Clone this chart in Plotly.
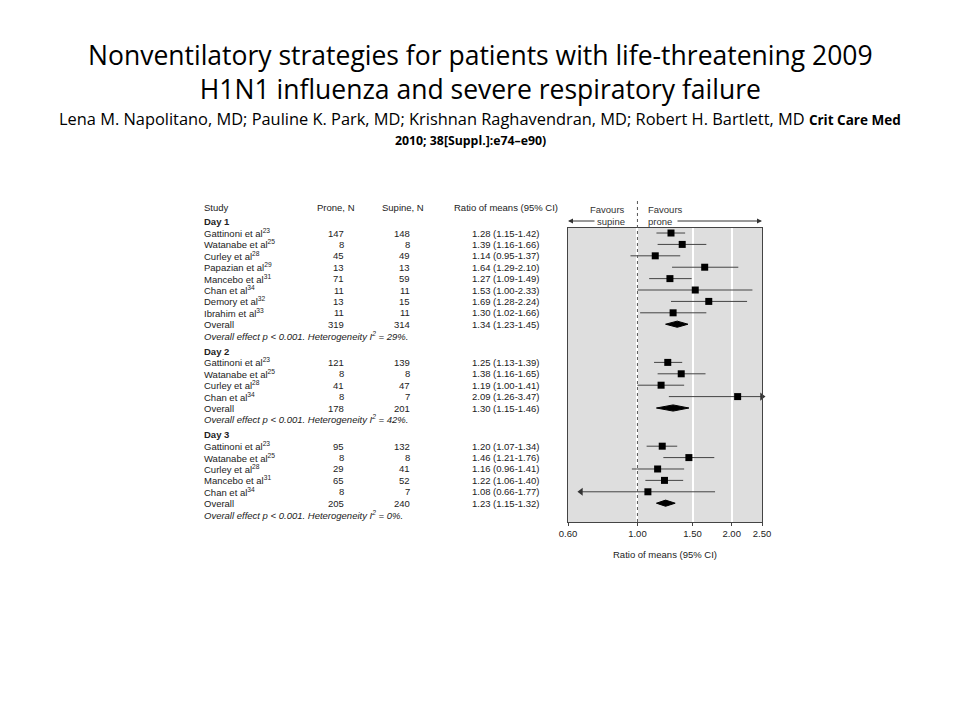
import math
import plotly.graph_objects as go

# ---------------- data ----------------
day_labels = ["Day 1", "Day 2", "Day 3"]

studies_d1 = ["Gattinoni et al<sup>23</sup>", "Watanabe et al<sup>25</sup>", "Curley et al<sup>28</sup>",
              "Papazian et al<sup>29</sup>", "Mancebo et al<sup>31</sup>", "Chan et al<sup>34</sup>",
              "Demory et al<sup>32</sup>", "Ibrahim et al<sup>33</sup>"]
prone_d1 = [147, 8, 45, 13, 71, 11, 13, 11]
supine_d1 = [148, 8, 49, 13, 59, 11, 15, 11]
ratio_d1 = [1.28, 1.39, 1.14, 1.64, 1.27, 1.53, 1.69, 1.30]
lo_d1 = [1.15, 1.16, 0.95, 1.29, 1.09, 1.00, 1.28, 1.02]
hi_d1 = [1.42, 1.66, 1.37, 2.10, 1.49, 2.33, 2.24, 1.66]

studies_d2 = ["Gattinoni et al<sup>23</sup>", "Watanabe et al<sup>25</sup>", "Curley et al<sup>28</sup>",
              "Chan et al<sup>34</sup>"]
prone_d2 = [121, 8, 41, 8]
supine_d2 = [139, 8, 47, 7]
ratio_d2 = [1.25, 1.38, 1.19, 2.09]
lo_d2 = [1.13, 1.16, 1.00, 1.26]
hi_d2 = [1.39, 1.65, 1.41, 3.47]

studies_d3 = ["Gattinoni et al<sup>23</sup>", "Watanabe et al<sup>25</sup>", "Curley et al<sup>28</sup>",
              "Mancebo et al<sup>31</sup>", "Chan et al<sup>34</sup>"]
prone_d3 = [95, 8, 29, 65, 8]
supine_d3 = [132, 8, 41, 52, 7]
ratio_d3 = [1.20, 1.46, 1.16, 1.22, 1.08]
lo_d3 = [1.07, 1.21, 0.96, 1.06, 0.66]
hi_d3 = [1.34, 1.76, 1.41, 1.40, 1.77]

overall_prone = [319, 178, 205]
overall_supine = [314, 201, 240]
overall_ratio = [1.34, 1.30, 1.23]
overall_lo = [1.23, 1.15, 1.15]
overall_hi = [1.45, 1.46, 1.32]
heterogeneity = [29, 42, 0]

x_ticks = [0.60, 1.00, 1.50, 2.00, 2.50]
x_tick_labels = ["0.60", "1.00", "1.50", "2.00", "2.50"]

sections = [
    (studies_d1, prone_d1, supine_d1, ratio_d1, lo_d1, hi_d1),
    (studies_d2, prone_d2, supine_d2, ratio_d2, lo_d2, hi_d2),
    (studies_d3, prone_d3, supine_d3, ratio_d3, lo_d3, hi_d3),
]

# ---------------- layout constants ----------------
W, H = 960, 720
OFF = 8                                      # page body margin
PL, PR, PT, PB = 568 - OFF, 762 - OFF, 228 - OFF, 522 - OFF   # plot area (figure px)
XMIN, XMAX = 0.60, 2.50
R_TOP, R_BOT = -0.44, 25.35
GAP = 1.35

def xpaper(px):          # px = position on screen
    return (px - OFF - PL) / (PR - PL)

def ypaper(py):
    return 1 - (py - OFF - PT) / (PB - PT)

def rowpaper(r):
    return (R_BOT - r) / (R_BOT - R_TOP)

def val2paper(v):
    return (math.log10(v) - math.log10(XMIN)) / (math.log10(XMAX) - math.log10(XMIN))

SANS = "Liberation Sans, Arial, sans-serif"
TXT = dict(family=SANS, size=9.5, color="#222")

fig = go.Figure()
ann = []

def tann(x, y, text, xanchor="left", font=None):
    ann.append(dict(x=x, y=y, xref="paper", yref="paper", text=text, showarrow=False,
                    xanchor=xanchor, yanchor="middle", font=font or TXT))

col_study = xpaper(202)
col_prone = xpaper(346)
col_supine = xpaper(412)
col_ratio = xpaper(470)
col_ci = xpaper(491)

# header
hdr_r = -2.28
tann(col_study, rowpaper(hdr_r), "Study")
tann(xpaper(357), rowpaper(hdr_r), "Prone, N", "right")
tann(xpaper(426), rowpaper(hdr_r), "Supine, N", "right")
tann(xpaper(452), rowpaper(hdr_r), "Ratio of means (95% CI)")

line_x, line_y = [], []
sq_x, sq_y = [], []
arr_r_x, arr_r_y, arr_l_x, arr_l_y = [], [], [], []

r = -1.0
for k, (names, pn, sn, rm, lo, hi) in enumerate(sections):
    tann(col_study, rowpaper(r), "<b>%s</b>" % day_labels[k])
    for i in range(len(names)):
        r += 1
        yp = rowpaper(r)
        tann(col_study, yp, names[i])
        tann(col_prone, yp, str(pn[i]), "right")
        tann(col_supine, yp, str(sn[i]), "right")
        tann(col_ratio, yp, "%.2f" % rm[i])
        tann(col_ci, yp, "(%.2f-%.2f)" % (lo[i], hi[i]))
        a = max(lo[i], XMIN)
        b = min(hi[i], XMAX)
        line_x += [a, b, None]
        line_y += [r, r, None]
        sq_x.append(rm[i]); sq_y.append(r)
        if hi[i] > XMAX:
            arr_r_x.append(b); arr_r_y.append(r)
        if lo[i] < 0.7:
            arr_l_x.append(a); arr_l_y.append(r)
    r += 1
    yp = rowpaper(r)
    tann(col_study, yp, "Overall")
    tann(col_prone, yp, str(overall_prone[k]), "right")
    tann(col_supine, yp, str(overall_supine[k]), "right")
    tann(col_ratio, yp, "%.2f" % overall_ratio[k])
    tann(col_ci, yp, "(%.2f-%.2f)" % (overall_lo[k], overall_hi[k]))
    d = 0.27
    fig.add_trace(go.Scatter(
        x=[overall_lo[k], overall_ratio[k], overall_hi[k], overall_ratio[k], overall_lo[k]],
        y=[r, r - d, r, r + d, r], mode="lines", fill="toself",
        fillcolor="black", line=dict(color="black", width=1), hoverinfo="skip"))
    r += 1
    tann(col_study, rowpaper(r),
         "<i>Overall effect p &lt; 0.001. Heterogeneity I<sup>2</sup> = %d%%.</i>" % heterogeneity[k])
    r += GAP

fig.add_trace(go.Scatter(x=line_x, y=line_y, mode="lines",
                         line=dict(color="#444", width=1), hoverinfo="skip"))
fig.add_trace(go.Scatter(x=sq_x, y=sq_y, mode="markers",
                         marker=dict(symbol="square", size=7, color="black"), hoverinfo="skip"))
fig.add_trace(go.Scatter(x=arr_r_x, y=arr_r_y, mode="markers", cliponaxis=False,
                         marker=dict(symbol="triangle-right", size=7, color="#333"), hoverinfo="skip"))
fig.add_trace(go.Scatter(x=arr_l_x, y=arr_l_y, mode="markers", cliponaxis=False,
                         marker=dict(symbol="triangle-left", size=7, color="#333"), hoverinfo="skip"))

# dotted line at 1.00 (extends above the panel)
x1p = val2paper(1.0)
fig.add_shape(type="line", xref="paper", yref="paper", x0=x1p, x1=x1p,
              y0=0, y1=ypaper(201), line=dict(color="#555", width=1, dash="dot"))

# favours labels and arrows
FAV = dict(family=SANS, size=9.5, color="#333")
tann(xpaper(627), ypaper(210), "Favours", "right", FAV)
tann(xpaper(627), ypaper(221), "supine", "right", FAV)
tann(xpaper(646), ypaper(210), "Favours", "left", FAV)
tann(xpaper(646), ypaper(221), "prone", "left", FAV)
ann.append(dict(x=0, y=ypaper(221), xref="paper", yref="paper", ax=28, ay=0, text="",
                showarrow=True, arrowhead=2, arrowsize=1, arrowwidth=1, arrowcolor="#333"))
ann.append(dict(x=1, y=ypaper(221), xref="paper", yref="paper", ax=-86, ay=0, text="",
                showarrow=True, arrowhead=2, arrowsize=1, arrowwidth=1, arrowcolor="#333"))

# title block
TFONT = "Open Sans, Noto Sans, sans-serif"

def fig_title(py, text, size, bold=False, px=480):
    ann.append(dict(x=xpaper(px), y=ypaper(py), xref="paper", yref="paper",
                    text=("<b>%s</b>" % text) if bold else text, showarrow=False,
                    xanchor="center", yanchor="middle",
                    font=dict(family=TFONT, size=size, color="black")))

fig_title(71.5, "Nonventilatory strategies for patients with life-threatening 2009<br>"
                "H1N1 influenza and severe respiratory failure", 26.5)
fig_title(118, "Lena M. Napolitano, MD; Pauline K. Park, MD; Krishnan Raghavendran, MD; Robert H. Bartlett, MD "
               "<b><span style='font-size:13.5px'>Crit Care Med</span></b>", 16.4)
fig_title(140, "2010; 38[Suppl.]:e74–e90)", 12.3, bold=True, px=470)

fig.update_layout(
    width=W, height=H,
    margin=dict(l=PL, r=W - PR, t=PT, b=H - PB, pad=0),
    paper_bgcolor="white", plot_bgcolor="#dedede",
    showlegend=False,
    xaxis=dict(type="log", range=[math.log10(XMIN), math.log10(XMAX)],
               tickvals=x_ticks, ticktext=x_tick_labels, showgrid=True,
               gridcolor="white", gridwidth=1.5, zeroline=False,
               showline=True, linecolor="#444", linewidth=1, mirror=True,
               ticks="outside", ticklen=3, tickcolor="#444",
               tickfont=dict(family=SANS, size=9.5, color="#222"),
               title=dict(text="Ratio of means (95% CI)", standoff=12,
                          font=dict(family=SANS, size=9.5, color="#222"))),
    yaxis=dict(range=[R_BOT, R_TOP], showticklabels=False, showgrid=False,
               zeroline=False, ticks="", showline=True, linecolor="#444", linewidth=1, mirror=True),
    annotations=ann,
)

fig.write_html("out.html")
